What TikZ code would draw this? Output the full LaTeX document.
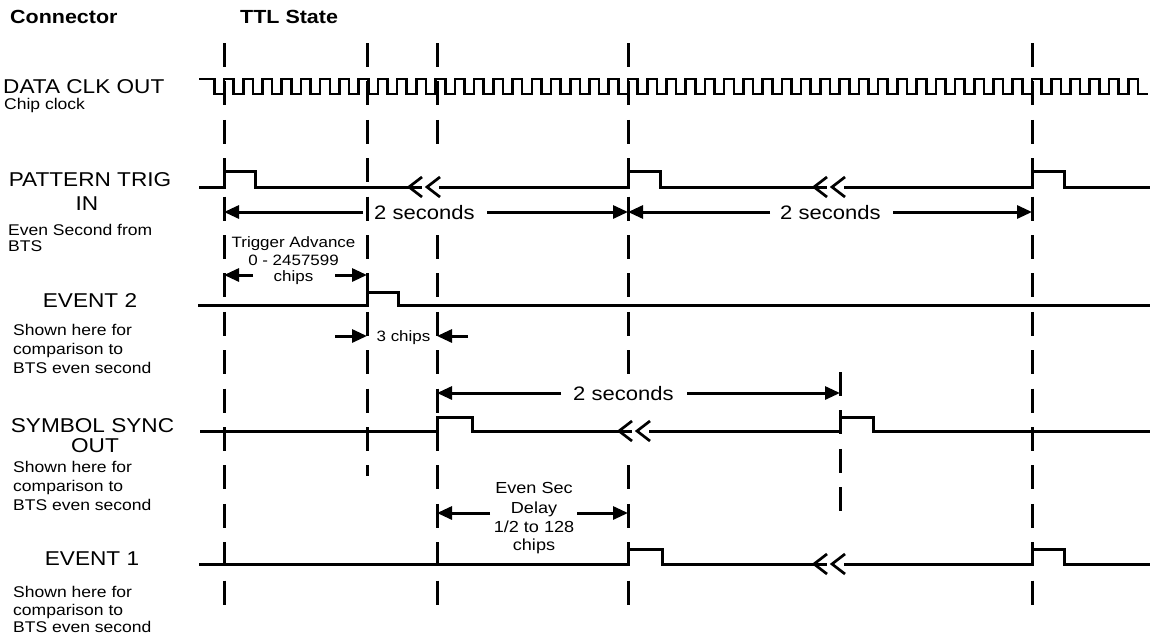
\documentclass[tikz,border=0pt]{standalone}
\usepackage{fontspec}
\setmainfont{Liberation Sans}[FakeStretch=1.13]
\usetikzlibrary{arrows.meta}
\begin{document}
\begin{tikzpicture}[x=1pt,y=-1pt,
  sig/.style={line width=3pt, line join=miter},
  clk/.style={line width=2.6pt, line join=miter},
  vgrid/.style={line width=3pt, dash pattern=on 24pt off 14.4pt},
  dimarrow/.style={line width=3pt, -{Triangle[length=15pt,width=13pt]}},
  brk/.style={line width=2.7pt},
  head/.style={font=\bfseries\fontsize{19}{23}\selectfont, inner sep=0pt},
  big/.style={font=\fontsize{20}{24}\selectfont, inner sep=0pt},
  sub/.style={font=\fontsize{15.5}{19}\selectfont, inner sep=0pt, anchor=base west},
  secs/.style={font=\fontsize{19.5}{23}\selectfont, inner sep=0pt, anchor=base west},
  note/.style={font=\fontsize{15}{18}\selectfont, inner sep=0pt, anchor=base},
  notebig/.style={font=\fontsize{16}{19}\selectfont, inner sep=0pt, anchor=base}]
\useasboundingbox (0,0) rectangle (1153,635);

% headers
\node[head, anchor=base west] (hconn) at (10,23) {Connector};
\node[head, anchor=base west] (httl) at (240,23) {TTL State};

% left labels
\node[big, anchor=base west] (ldclk) at (3,93) {DATA CLK OUT};
\node[sub] (lchip) at (4,109) {Chip clock};
\node[big, anchor=base] (lpt) at (90,186) {PATTERN TRIG};
\node[big, anchor=base] (lptin) at (87,210) {IN};
\node[sub] (lpt1) at (8,235) {Even Second from};
\node[sub] (lpt2) at (8,251) {BTS};
\node[big, anchor=base] (lev2) at (90,307) {EVENT 2};
\node[sub] (lev2a) at (13,335) {Shown here for};
\node[sub] (lev2b) at (13,354) {comparison to};
\node[sub] (lev2c) at (13,373) {BTS even second};
\node[big, anchor=base] (lss) at (92.5,432) {SYMBOL SYNC};
\node[big, anchor=base] (lssout) at (95,452) {OUT};
\node[sub] (lssa) at (13,472) {Shown here for};
\node[sub] (lssb) at (13,491) {comparison to};
\node[sub] (lssc) at (13,510) {BTS even second};
\node[big, anchor=base] (lev1) at (92,565) {EVENT 1};
\node[sub] (lev1a) at (13,597) {Shown here for};
\node[sub] (lev1b) at (13,615) {comparison to};
\node[sub] (lev1c) at (13,632) {BTS even second};

% vertical dashed reference lines
\foreach \vx in {224,1032} {\draw[vgrid] (\vx,43) -- (\vx,605);}
\draw[vgrid] (437,43) -- (437,150);
\draw[vgrid] (437,235) -- (437,605);
\draw[vgrid] (628,43) -- (628,376);
\draw[vgrid] (628,465.4) -- (628,605);
\draw[vgrid] (367,43) -- (367,476);
\draw[vgrid] (840,372) -- (840,512);

% clock
\draw[clk] (199,79) -- (214.38,79) -- (214.38,94)
  \foreach \k in {0,...,47} {
    -- ({224+\k*19.238},94) -- ({224+\k*19.238},79)
    -- ({233.62+\k*19.238},79) -- ({233.62+\k*19.238},94)}
  -- (1148,94);

% PATTERN TRIG IN
\draw[sig] (199,187) -- (224,187) -- (224,171) -- (255,171) -- (255,187) -- (422,187);
\draw[sig] (439,187) -- (628,187) -- (628,171) -- (660,171) -- (660,187) -- (827,187);
\draw[sig] (844,187) -- (1032,187) -- (1032,171) -- (1064,171) -- (1064,187) -- (1150,187);

% EVENT 2
\draw[sig] (198,305) -- (367,305) -- (367,292) -- (398,292) -- (398,305) -- (1150,305);

% SYMBOL SYNC OUT
\draw[sig] (200,431) -- (437,431) -- (437,417) -- (472,417) -- (472,431) -- (632,431);
\draw[sig] (649,431) -- (840,431) -- (840,417) -- (873,417) -- (873,431) -- (1150,431);

% EVENT 1
\draw[sig] (199,564) -- (628,564) -- (628,549) -- (662,549) -- (662,564) -- (827,564);
\draw[sig] (844,564) -- (1032,564) -- (1032,549) -- (1064,549) -- (1064,564) -- (1150,564);

% break marks
\foreach \bx/\by in {409/187, 814/187, 619/431, 814/564} {
  \draw[brk] (\bx+13,\by-10) -- (\bx,\by) -- (\bx+13,\by+10);
  \draw[brk] (\bx+31,\by-10) -- (\bx+18,\by) -- (\bx+31,\by+10);
}

% 2 seconds (pattern trig)
\node[secs] (s1) at (374,219) {2 seconds};
\draw[dimarrow] (363,212) -- (224,212);
\draw[dimarrow] (487,212) -- (628,212);
\node[secs] (s2) at (780,219) {2 seconds};
\draw[dimarrow] (770,212) -- (628,212);
\draw[dimarrow] (893,212) -- (1032,212);

% Trigger advance
\node[note] (ta1) at (293.5,247.5) {Trigger Advance};
\node[note] (ta2) at (293.5,265) {0 - 2457599};
\node[note] (ta3) at (293.5,281.5) {chips};
\draw[dimarrow] (253,275) -- (224,275);
\draw[dimarrow] (335,275) -- (367,275);

% 3 chips
\node[note] (c3) at (403.5,341.5) {3 chips};
\draw[dimarrow] (335,336) -- (367,336);
\draw[dimarrow] (468,336) -- (437,336);

% 2 seconds (symbol sync)
\node[secs] (s3) at (573,400) {2 seconds};
\draw[dimarrow] (561,393) -- (437,393);
\draw[dimarrow] (687,393) -- (840,393);

% Even sec delay
\node[notebig] (ed1) at (534,493) {Even Sec};
\node[notebig] (ed2) at (534,513) {Delay};
\node[notebig] (ed3) at (534,532) {1/2 to 128};
\node[notebig] (ed4) at (534,550) {chips};
\draw[dimarrow] (490,513) -- (437,513);
\draw[dimarrow] (577,513) -- (628,513);
\end{tikzpicture}
\end{document}
